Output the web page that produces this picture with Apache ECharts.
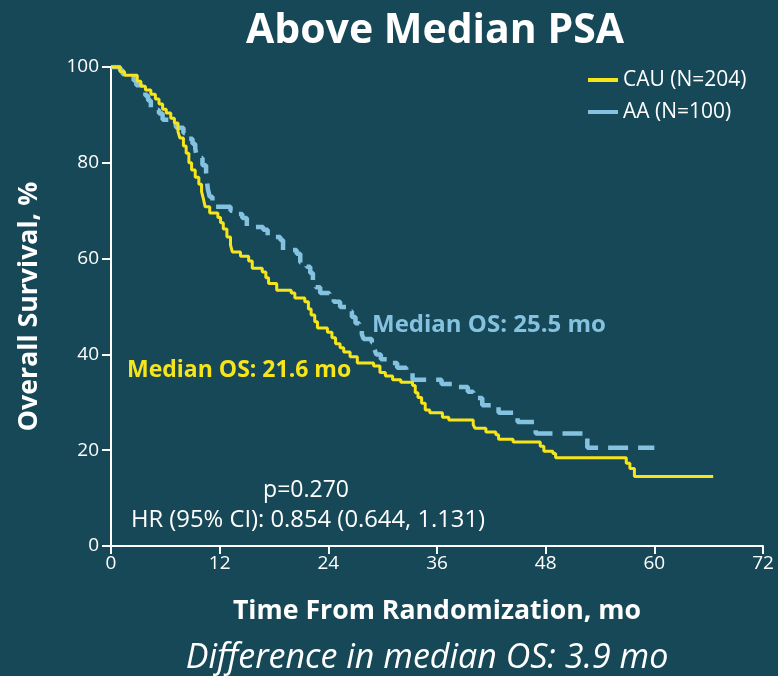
<!DOCTYPE html>
<html>
<head>
<meta charset="utf-8">
<script src="https://cdn.jsdelivr.net/npm/echarts@6/dist/echarts.min.js"></script>
<style>
html,body{margin:0;padding:0;background:#174858;}
#chart{width:778px;height:676px;}
</style>
</head>
<body>
<div id="chart"></div>
<script>
// Kaplan-Meier step points: [time (mo), survival % after step]
const cauPoints = [[0,100],[1.0,99.0],[1.5,98.3],[2.9,97.0],[3.3,96.0],[3.8,95.2],[4.4,94.3],[4.9,93.3],[5.3,92.3],[5.7,91.2],[6.1,90.4],[6.6,89.3],[7.0,88.3],[7.4,86.5],[7.6,85.2],[8.0,83.5],[8.3,82.0],[8.6,80.0],[8.9,78.5],[9.3,77.0],[9.7,75.5],[10.0,74.0],[10.2,72.5],[10.4,70.8],[10.9,69.5],[11.8,68.6],[12.1,67.5],[12.4,66.2],[12.8,64.5],[13.2,62.8],[13.4,61.4],[14.3,60.5],[15.2,59.5],[15.6,58.0],[16.7,57.2],[17.1,56.0],[17.4,54.8],[18.3,53.4],[19.9,52.8],[20.3,51.8],[21.4,51.0],[21.8,49.5],[22.1,48.2],[22.5,46.8],[22.8,45.5],[23.9,44.6],[24.4,43.5],[24.8,42.2],[25.3,41.4],[25.7,40.5],[26.4,39.5],[27.2,38.2],[29.0,37.6],[29.7,36.2],[30.3,35.5],[31.1,34.7],[32.0,34.2],[33.3,33.5],[33.6,32.0],[33.9,31.0],[34.3,29.8],[34.7,28.4],[35.2,27.8],[36.6,26.9],[37.3,26.3],[40.0,25.3],[40.2,24.6],[41.4,23.8],[42.5,23.2],[42.8,22.3],[44.4,21.7],[47.4,20.8],[47.8,19.8],[48.8,19.3],[49.1,18.4],[56.9,17.3],[57.3,16.2],[57.8,14.5],[66.5,14.5]];
const aaPoints = [[0,100],[1.0,99.3],[1.3,98.5],[2.5,97.2],[2.8,96.2],[3.4,95.2],[3.8,94.0],[4.1,93.0],[4.4,91.0],[5.3,90.3],[5.7,89.0],[6.6,88.0],[7.2,87.3],[8.0,86.2],[8.4,85.0],[9.0,84.0],[9.3,83.0],[9.5,81.0],[10.1,79.5],[10.5,77.9],[10.6,76.0],[10.7,74.5],[10.9,72.9],[11.2,70.8],[13.2,70.0],[13.7,69.3],[14.5,68.5],[15.0,66.6],[16.8,66.0],[17.3,64.5],[18.7,63.9],[19.0,61.8],[20.5,61.0],[20.9,59.2],[21.6,58.3],[22.0,57.0],[22.3,55.5],[22.6,54.0],[23.1,52.8],[24.1,51.8],[24.6,51.0],[25.3,49.9],[26.1,49.0],[26.6,47.8],[27.0,46.5],[27.4,45.5],[27.7,44.2],[27.9,43.2],[28.8,42.5],[29.1,41.0],[29.3,40.0],[29.8,39.0],[30.8,38.2],[31.6,37.2],[32.6,36.4],[33.3,34.7],[36.5,33.8],[38.2,33.2],[39.4,32.2],[40.0,30.9],[41.0,29.4],[42.8,27.8],[44.9,25.9],[46.9,23.5],[52.6,20.5],[60.0,20.5]];
const seriesNames = ['CAU (N=204)', 'AA (N=100)'];
const xTicks = [0, 12, 24, 36, 48, 60, 72];
const yTicks = [0, 20, 40, 60, 80, 100];

const FONT = '"Open Sans", Lato, sans-serif';
const YELLOW = '#f7e51b';
const BLUE = '#84c2e0';
const chart = echarts.init(document.getElementById('chart'));
chart.setOption({
  backgroundColor: '#174858',
  animation: false,
  textStyle: { fontFamily: FONT },
  title: {
    text: 'Above Median PSA',
    left: 430, top: 6, textAlign: 'center',
    textStyle: { color: '#ffffff', fontSize: 41, fontWeight: 'bold', fontFamily: FONT }
  },
  legend: {
    orient: 'vertical', left: 583, top: 63,
    itemWidth: 30, itemHeight: 4, itemGap: 8, icon: 'rect',
    textStyle: { color: '#ffffff', fontSize: 21, lineHeight: 24, fontFamily: FONT },
    data: seriesNames
  },
  grid: { left: 111, right: 15, top: 67, bottom: 130 },
  xAxis: {
    type: 'value', min: xTicks[0], max: xTicks[xTicks.length - 1], interval: 12,
    name: 'Time From Randomization, mo', nameLocation: 'middle', nameGap: 52,
    nameTextStyle: { color: '#ffffff', fontSize: 26.7, fontWeight: 'bold', fontFamily: FONT },
    axisLine: { lineStyle: { color: '#ffffff', width: 2 } },
    axisTick: { show: true, length: 8, lineStyle: { color: '#ffffff', width: 2 } },
    axisLabel: { color: '#ffffff', fontSize: 19, margin: 8, fontFamily: FONT },
    splitLine: { show: false }
  },
  yAxis: {
    type: 'value', min: yTicks[0], max: yTicks[yTicks.length - 1], interval: 20,
    name: 'Overall Survival, %', nameLocation: 'middle', nameGap: 68, nameRotate: 90,
    nameTextStyle: { color: '#ffffff', fontSize: 26.7, fontWeight: 'bold', fontFamily: FONT },
    axisLine: { show: true, lineStyle: { color: '#ffffff', width: 2 } },
    axisTick: { show: true, length: 9, lineStyle: { color: '#ffffff', width: 2 } },
    axisLabel: { color: '#ffffff', fontSize: 19, margin: 12, fontFamily: FONT },
    splitLine: { show: false }
  },
  series: [
    {
      name: seriesNames[1], type: 'line', step: 'end', data: aaPoints,
      symbol: 'none', itemStyle: { color: BLUE },
      lineStyle: { color: BLUE, width: 4.5, type: [20, 10] }, z: 2
    },
    {
      name: seriesNames[0], type: 'line', step: 'end', data: cauPoints,
      symbol: 'none', itemStyle: { color: YELLOW },
      lineStyle: { color: YELLOW, width: 3 }, z: 3
    }
  ],
  graphic: [
    { type: 'text', x: 372, y: 325, style: { text: 'Median OS: 25.5 mo', fill: BLUE, font: 'bold 24px ' + FONT, textVerticalAlign: 'middle' } },
    { type: 'text', x: 127, y: 370, style: { text: 'Median OS: 21.6 mo', fill: YELLOW, font: 'bold 23px ' + FONT, textVerticalAlign: 'middle' } },
    { type: 'text', x: 306, y: 490, style: { text: 'p=0.270', fill: '#ffffff', font: '23px ' + FONT, textAlign: 'center', textVerticalAlign: 'middle' } },
    { type: 'text', x: 308, y: 520, style: { text: 'HR (95% CI): 0.854 (0.644, 1.131)', fill: '#ffffff', font: '23.8px ' + FONT, textAlign: 'center', textVerticalAlign: 'middle' } },
    { type: 'text', x: 427, y: 658, style: { text: 'Difference in median OS: 3.9 mo', fill: '#ffffff', font: 'italic 34px ' + FONT, textAlign: 'center', textVerticalAlign: 'middle' } }
  ]
});
</script>
</body>
</html>
